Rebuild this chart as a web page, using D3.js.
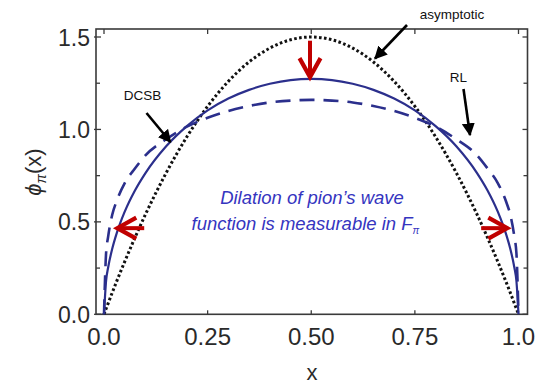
<!DOCTYPE html>
<html><head><meta charset="utf-8">
<script src="https://cdn.jsdelivr.net/npm/d3@7"></script>
<style>
html,body{margin:0;padding:0;background:#fff;}
svg{display:block;}
text{font-family:"Liberation Sans",Arial,Helvetica,sans-serif;}
</style></head>
<body><svg id="c" width="549" height="386"></svg>
<script>
// ---- data ----
const xs = [0, 0.005, 0.01, 0.02, 0.03, 0.05, 0.075, 0.1, 0.15, 0.2, 0.25, 0.3, 0.35, 0.4, 0.45, 0.5,
            0.55, 0.6, 0.65, 0.7, 0.75, 0.8, 0.85, 0.9, 0.925, 0.95, 0.97, 0.98, 0.99, 0.995, 1];
const asymptotic = [0, 0.030, 0.059, 0.118, 0.175, 0.285, 0.416, 0.54, 0.765, 0.96, 1.125, 1.26, 1.365, 1.44, 1.485, 1.5,
                    1.485, 1.44, 1.365, 1.26, 1.125, 0.96, 0.765, 0.54, 0.416, 0.285, 0.175, 0.118, 0.059, 0.030, 0];
const dcsb = [0, 0.18, 0.253, 0.356, 0.434, 0.555, 0.671, 0.764, 0.909, 1.018, 1.103, 1.167, 1.214, 1.247, 1.267, 1.273,
              1.267, 1.247, 1.214, 1.167, 1.103, 1.018, 0.909, 0.764, 0.671, 0.555, 0.434, 0.356, 0.253, 0.18, 0];
const rl = [0, 0.33, 0.42, 0.54, 0.61, 0.71, 0.79, 0.86, 0.947, 1.015, 1.063, 1.10, 1.127, 1.146, 1.156, 1.16,
            1.156, 1.146, 1.127, 1.10, 1.063, 1.015, 0.947, 0.86, 0.79, 0.71, 0.61, 0.54, 0.42, 0.33, 0];
const xTicks = [0, 0.25, 0.5, 0.75, 1.0];
const xTickLabels = ["0.0", "0.25", "0.50", "0.75", "1.0"];
const yTicks = [0, 0.5, 1.0, 1.5];
const yTickLabels = ["0.0", "0.5", "1.0", "1.5"];
const yMinorTicks = [0.25, 0.75, 1.25];

const svg = d3.select("#c");
const x = d3.scaleLinear().domain([0, 1]).range([104, 518.5]);
const y = d3.scaleLinear().domain([0, 1.5]).range([314.3, 37]);
const L = 96, R = 527.5, T = 29, B = 314.3;
const axisCol = "#3a3a3a";

// frame
svg.append("rect").attr("x", L).attr("y", T).attr("width", R - L).attr("height", B - T)
  .attr("fill", "none").attr("stroke", axisCol).attr("stroke-width", 1.6);

// ticks
const tk = svg.append("g").attr("stroke", axisCol).attr("stroke-width", 1.3);
yTicks.forEach(v => {
  tk.append("line").attr("x1", L - 2).attr("x2", L + 5).attr("y1", y(v)).attr("y2", y(v));
  tk.append("line").attr("x1", R).attr("x2", R - 5).attr("y1", y(v)).attr("y2", y(v));
});
yMinorTicks.forEach(v => {
  tk.append("line").attr("x1", L).attr("x2", L + 4).attr("y1", y(v)).attr("y2", y(v));
  tk.append("line").attr("x1", R).attr("x2", R - 4).attr("y1", y(v)).attr("y2", y(v));
});
xTicks.forEach(v => {
  tk.append("line").attr("x1", x(v)).attr("x2", x(v)).attr("y1", T).attr("y2", T + 5);
  tk.append("line").attr("x1", x(v)).attr("x2", x(v)).attr("y1", B).attr("y2", B - 4);
});

// tick labels
svg.append("g").selectAll("text").data(yTicks).join("text")
  .attr("x", 90).attr("y", d => y(d) + 8.5).attr("text-anchor", "end")
  .attr("font-size", 23).attr("fill", "#2a2a2a").text((d, i) => yTickLabels[i]);
svg.append("g").selectAll("text").data(xTicks).join("text")
  .attr("x", d => x(d)).attr("y", 345).attr("text-anchor", "middle")
  .attr("font-size", 24).attr("fill", "#2a2a2a").text((d, i) => xTickLabels[i]);

// axis titles
svg.append("text").attr("x", 312).attr("y", 380).attr("text-anchor", "middle")
  .attr("font-size", 22).attr("fill", "#2a2a2a").text("x");
const yt = svg.append("text").attr("transform", "translate(41,172) rotate(-90)")
  .attr("text-anchor", "middle").attr("font-size", 22).attr("fill", "#2a2a2a");
yt.append("tspan").attr("font-style", "italic").text("\u03D5");
yt.append("tspan").attr("font-size", 14).attr("font-style", "italic").attr("dy", 5).text("\u03C0");
yt.append("tspan").attr("dy", -5).text("(x)");

// curves
const line = d3.line().x(d => x(d[0])).y(d => y(d[1])).curve(d3.curveMonotoneX);
const blue = "#2b2f8c";
svg.append("path").datum(xs.map((v, i) => [v, asymptotic[i]])).attr("d", line)
  .attr("fill", "none").attr("stroke", "#111").attr("stroke-width", 3).attr("stroke-dasharray", "2.6,2.4");
svg.append("path").datum(xs.map((v, i) => [v, rl[i]])).attr("d", line)
  .attr("fill", "none").attr("stroke", blue).attr("stroke-width", 2.6).attr("stroke-dasharray", "15,9");
svg.append("path").datum(xs.map((v, i) => [v, dcsb[i]])).attr("d", line)
  .attr("fill", "none").attr("stroke", blue).attr("stroke-width", 2.2);

// black annotation arrows
const defs = svg.append("defs");
defs.append("marker").attr("id", "ah").attr("viewBox", "0 0 10 10").attr("refX", 9).attr("refY", 5)
  .attr("markerWidth", 5).attr("markerHeight", 5).attr("orient", "auto").attr("markerUnits", "strokeWidth")
  .append("path").attr("d", "M0,0 L10,5 L0,10 Z").attr("fill", "#000");
const blackArrows = [[146.5, 113, 170.5, 142], [407, 25, 375, 58.5], [463.5, 89, 470, 135]];
blackArrows.forEach(a => {
  svg.append("line").attr("x1", a[0]).attr("y1", a[1]).attr("x2", a[2]).attr("y2", a[3])
    .attr("stroke", "#000").attr("stroke-width", 2.6).attr("marker-end", "url(#ah)");
});
const lab = [["DCSB", 142.5, 100], ["asymptotic", 452, 19], ["RL", 458.5, 82]];
lab.forEach(l => svg.append("text").attr("x", l[1]).attr("y", l[2]).attr("text-anchor", "middle")
  .attr("font-family", "Lato, 'Open Sans', sans-serif").attr("font-size", 13.5).attr("fill", "#111").text(l[0]));

// red arrows (data coords)
const red = "#c00000";
function redArrow(x0, y0, x1, y1) {
  const p0 = [x(x0), y(y0)], p1 = [x(x1), y(y1)];
  const ang = Math.atan2(p1[1] - p0[1], p1[0] - p0[0]);
  const hl = 19, hw = 10.5;
  const bx = p1[0] - hl * Math.cos(ang), by = p1[1] - hl * Math.sin(ang);
  const nx = -Math.sin(ang), ny = Math.cos(ang);
  svg.append("line").attr("x1", p0[0]).attr("y1", p0[1]).attr("x2", p1[0] - 2 * Math.cos(ang)).attr("y2", p1[1] - 2 * Math.sin(ang))
    .attr("stroke", red).attr("stroke-width", 4);
  svg.append("path").attr("d", `M${bx + nx * hw},${by + ny * hw} L${p1[0]},${p1[1]} L${bx - nx * hw},${by - ny * hw}`)
    .attr("fill", "none").attr("stroke", red).attr("stroke-width", 4.2).attr("stroke-linejoin", "miter");
}
redArrow(0.497, 1.48, 0.497, 1.283);
redArrow(0.097, 0.466, 0.032, 0.466);
redArrow(0.91, 0.466, 0.973, 0.466);

// blue italic note
const note = svg.append("g").attr("fill", "#3535c0").attr("font-style", "italic").attr("font-size", 18.5);
note.append("text").attr("x", 312).attr("y", 203.5).attr("text-anchor", "middle").text("Dilation of pion\u2019s wave");
const t2 = note.append("text").attr("x", 191.5).attr("y", 230);
t2.append("tspan").text("function is measurable in F");
t2.append("tspan").attr("font-size", 10).attr("dy", 4).text("\u03C0");
</script></body></html>
